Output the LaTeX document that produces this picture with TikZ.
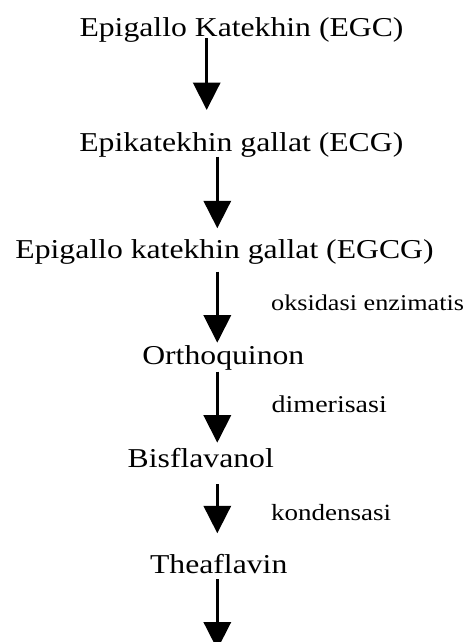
\documentclass[tikz,border=0pt]{standalone}
\usepackage{fontspec}
\setmainfont{Liberation Serif}
\usetikzlibrary{arrows.meta}
\newcommand{\sqz}[1]{\scalebox{1}[0.86]{#1}}
\tikzset{
  main/.style={anchor=base, inner sep=0pt, font=\fontsize{31.7}{36}\selectfont},
  lbl/.style={anchor=base west, inner sep=0pt, font=\fontsize{27}{31}\selectfont},
  arr/.style={line width=3.4pt, -{Triangle[length=27.5pt,width=27pt]}}
}
\begin{document}
\begin{tikzpicture}[x=1pt,y=-1pt]
\useasboundingbox (0,0) rectangle (467,642);
\clip (0,0) rectangle (467,642);
\node[main] (t1) at (241.5,37) {\sqz{Epigallo Katekhin (EGC)}};
\node[main] (t2) at (241.3,151.5) {\sqz{Epikatekhin gallat (ECG)}};
\node[main] (t3) at (224.5,258) {\sqz{Epigallo katekhin gallat (EGCG)}};
\node[main] (t4) at (223.3,364) {\sqz{Orthoquinon}};
\node[main] (t5) at (200.8,467) {\sqz{Bisflavanol}};
\node[main] (t6) at (218.7,573.3) {\sqz{Theaflavin}};
\node[lbl, font=\fontsize{26.2}{31}\selectfont] (l1) at (271,310) {\sqz{oksidasi enzimatis}};
\node[lbl, font=\fontsize{28}{31}\selectfont] (l2) at (271.5,412.7) {\sqz{dimerisasi}};
\node[lbl] (l3) at (271,520) {\sqz{kondensasi}};
\coordinate (a1s) at (206.7,38);   \coordinate (a1e) at (206.7,110);
\coordinate (a2s) at (217.3,156.7); \coordinate (a2e) at (217.3,228.3);
\coordinate (a3s) at (217.3,271.7); \coordinate (a3e) at (217.3,342.7);
\coordinate (a4s) at (217.3,371.7); \coordinate (a4e) at (217.3,442.7);
\coordinate (a5s) at (217.3,484);   \coordinate (a5e) at (217.3,533.3);
\coordinate (a6s) at (217.3,579.3); \coordinate (a6e) at (217.3,649.5);
\draw[arr] (a1s) -- (a1e);
\draw[arr] (a2s) -- (a2e);
\draw[arr] (a3s) -- (a3e);
\draw[arr] (a4s) -- (a4e);
\draw[arr] (a5s) -- (a5e);
\draw[arr] (a6s) -- (a6e);
\end{tikzpicture}
\end{document}
